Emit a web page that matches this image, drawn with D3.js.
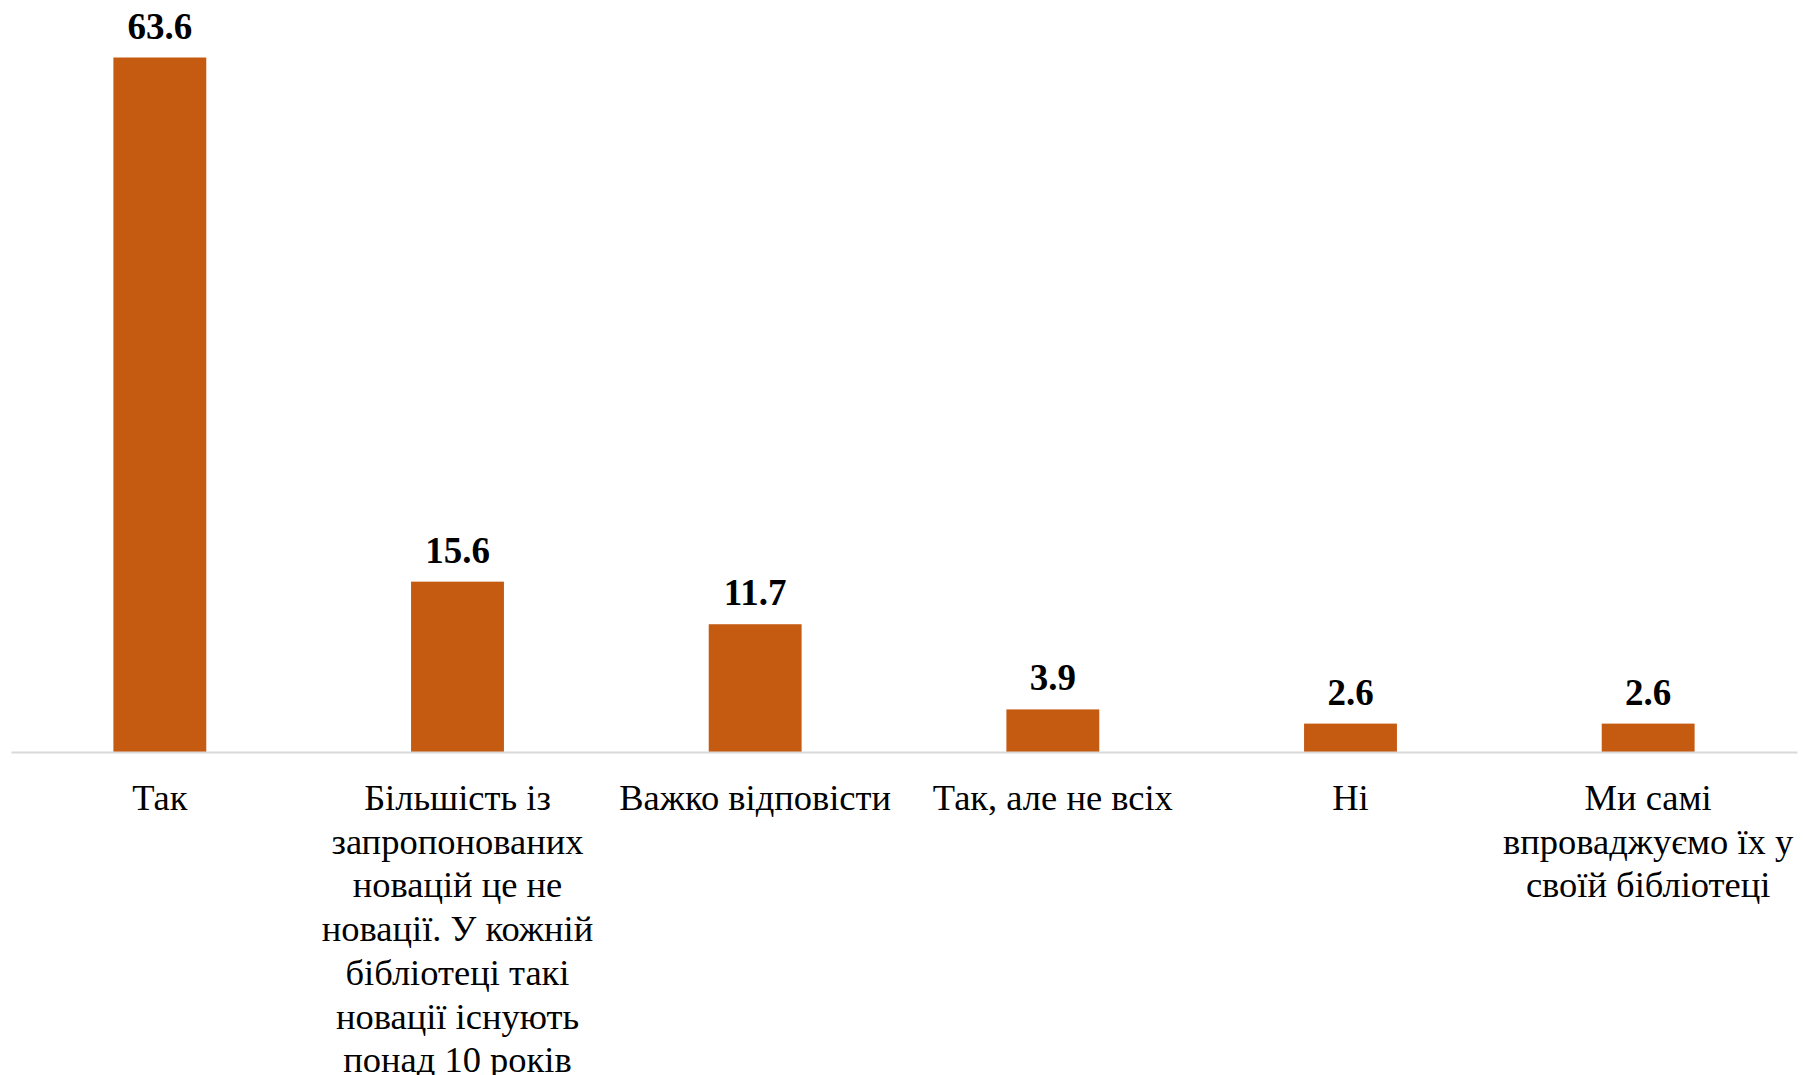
<!DOCTYPE html>
<html>
<head>
<meta charset="utf-8">
<script src="https://cdn.jsdelivr.net/npm/d3@7"></script>
<style>
  body { margin: 0; background: #fff; }
  svg { display: block; font-family: "Liberation Serif", "Times New Roman", serif; }
</style>
</head>
<body>
<svg id="chart"></svg>
<script>
const width = 1803, height = 1075

const categories = [
  'Так',
  'Більшість із\nзапропонованих\nновацій це не\nновації. У кожній\nбібліотеці такі\nновації існують\nпонад 10 років',
  'Важко відповісти',
  'Так, але не всіх',
  'Ні',
  'Ми самі\nвпроваджуємо їх у\nсвоїй бібліотеці'
]
const values = [63.6, 15.6, 11.7, 3.9, 2.6, 2.6]

const barColor = '#C55A11'
const baseY = 752

const svg = d3.select('#chart')
  .attr('width', width)
  .attr('height', height)

const x = d3.scaleBand()
  .domain(categories)
  .range([11, 1797])
  .paddingInner(0.688)
  .paddingOuter(0.344)

const y = d3.scaleLinear()
  .domain([0, d3.max(values)])
  .range([baseY, 57.5])

const data = categories.map((c, i) => ({ cat: c, value: values[i] }))

svg.selectAll('.bar')
  .data(data)
  .enter()
  .append('rect')
    .attr('class', 'bar')
    .attr('x', d => x(d.cat))
    .attr('y', d => y(d.value))
    .attr('width', x.bandwidth())
    .attr('height', d => baseY - y(d.value))
    .style('fill', barColor)

// value labels
svg.selectAll('.val')
  .data(data)
  .enter()
  .append('text')
    .attr('class', 'val')
    .attr('x', d => x(d.cat) + x.bandwidth() / 2)
    .attr('y', d => y(d.value) - 19)
    .attr('text-anchor', 'middle')
    .style('font-size', '37px')
    .style('font-weight', 'bold')
    .text(d => d.value.toFixed(1))

// category axis
const axis = svg.append('g')
  .attr('transform', `translate(0, ${baseY})`)
  .call(d3.axisBottom(x).tickSize(0).tickFormat(''))

axis.select('.domain')
  .attr('stroke', '#d9d9d9')
  .attr('stroke-width', 2)

const labels = svg.selectAll('.cat')
  .data(data)
  .enter()
  .append('text')
    .attr('class', 'cat')
    .attr('x', d => x(d.cat) + x.bandwidth() / 2)
    .attr('y', baseY + 58)
    .attr('text-anchor', 'middle')
    .style('font-size', '36.5px')

labels.selectAll('tspan')
  .data(d => d.cat.split('\n'))
  .enter()
  .append('tspan')
    .attr('x', function () { return this.parentNode.getAttribute('x') })
    .attr('dy', (d, i) => i === 0 ? 0 : 43.7)
    .text(d => d)
</script>
</body>
</html>
